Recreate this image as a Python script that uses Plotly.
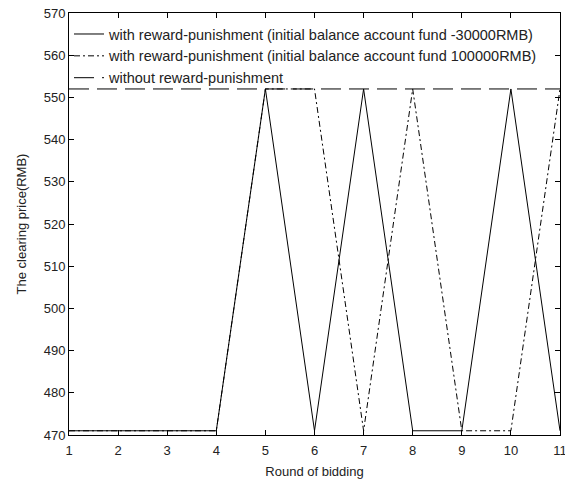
import plotly.graph_objects as go

rounds = [1, 2, 3, 4, 5, 6, 7, 8, 9, 10, 11]
price_fund_neg30000 = [471, 471, 471, 471, 552, 471, 552, 471, 471, 552, 471]
price_fund_100000 = [471, 471, 471, 471, 552, 552, 471, 552, 471, 471, 552]
price_without = [552, 552, 552, 552, 552, 552, 552, 552, 552, 552, 552]

names = [
    "with reward-punishment (initial balance account fund -30000RMB)",
    "with reward-punishment (initial balance account fund 100000RMB)",
    "without reward-punishment",
]

fig = go.Figure()
fig.add_trace(go.Scatter(x=rounds, y=price_fund_neg30000, mode="lines", name=names[0],
                         line=dict(color="black", width=1, dash="solid")))
fig.add_trace(go.Scatter(x=rounds, y=price_fund_100000, mode="lines", name=names[1],
                         line=dict(color="black", width=1, dash="6px,3px,2px,3px")))
fig.add_trace(go.Scatter(x=rounds, y=price_without, mode="lines", name=names[2],
                         line=dict(color="black", width=1, dash="20px,8px")))

font = "Liberation Sans, Arial, sans-serif"
# page body has an 8px default margin, so the figure is sized to fit the 573x487 window
fig.update_layout(
    width=565, height=479,
    margin=dict(l=61, r=13, t=5, b=52, autoexpand=False),
    paper_bgcolor="white", plot_bgcolor="white",
    font=dict(family=font, size=13, color="#222"),
    showlegend=True,
    legend=dict(x=0.0, y=0.988, xanchor="left", yanchor="top",
                bgcolor="rgba(0,0,0,0)", borderwidth=0,
                font=dict(size=14.5, family=font, color="#222"),
                itemwidth=30, tracegroupgap=0),
    xaxis=dict(range=[1, 11], tickvals=rounds, ticks="inside", ticklen=5,
               showgrid=False, zeroline=False, showline=True, linecolor="black",
               linewidth=1, mirror="allticks", tickcolor="black",
               tickfont=dict(size=13), ticklabelstandoff=3, ticklabeloverflow="allow",
               title=dict(text="Round of bidding", standoff=10, font=dict(size=13))),
    yaxis=dict(range=[470, 570], dtick=10, ticks="inside", ticklen=5,
               showgrid=False, zeroline=False, showline=True, linecolor="black",
               linewidth=1, mirror="allticks", tickcolor="black",
               tickfont=dict(size=13), ticklabeloverflow="allow",
               title=dict(text="The clearing price(RMB)", standoff=14, font=dict(size=13))),
)
fig.write_html("out.html")
